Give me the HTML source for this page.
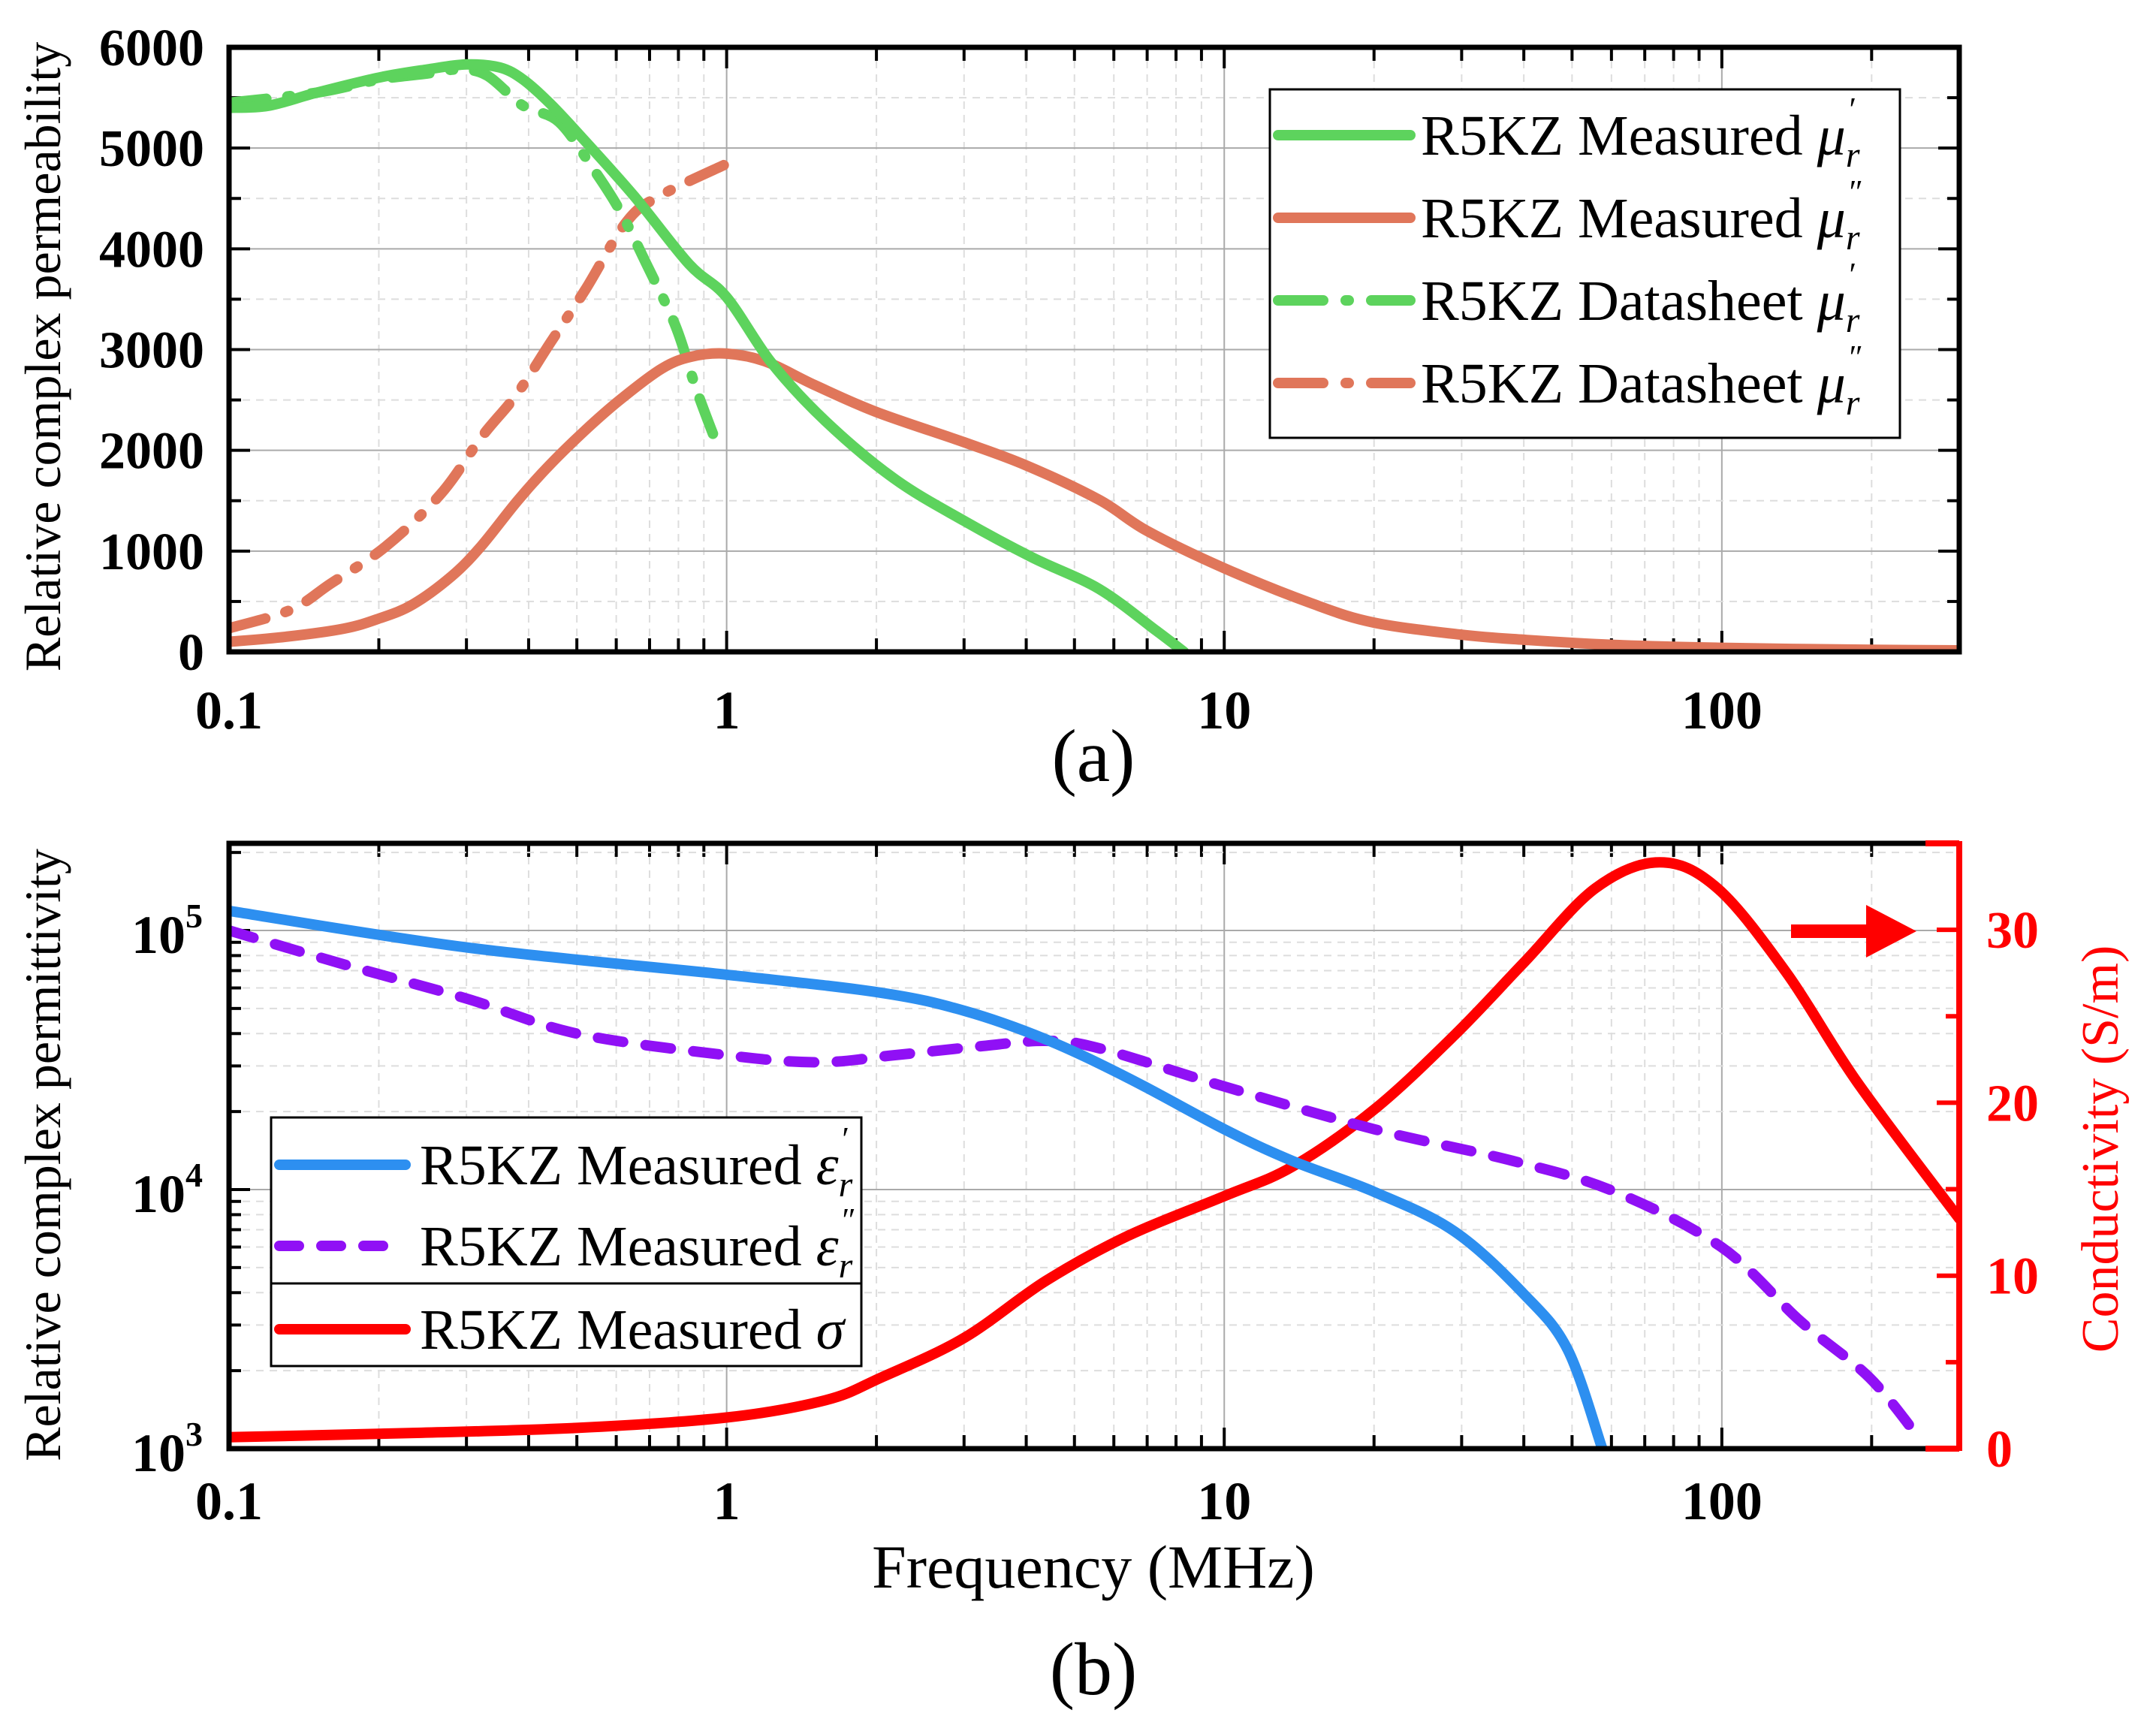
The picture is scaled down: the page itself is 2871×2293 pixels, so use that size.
<!DOCTYPE html>
<html><head><meta charset="utf-8"><style>
html,body{margin:0;padding:0;background:#fff;}
svg, svg text{font-family:"Liberation Serif","Times New Roman",serif;}
</style></head><body>
<svg id="c" width="2871" height="2288" viewBox="0 0 2871 2288" xmlns="http://www.w3.org/2000/svg" font-family="Liberation Serif, serif"></svg>
<script>
// ---- data: panel (a) ----
const muMeasRealF=[0.1,0.12,0.15,0.2,0.25,0.3,0.35,0.39,0.44,0.5,0.65,0.84,1,1.23,1.58,2.17,3,4.1,5.6,7.3,8.3];
const muMeasRealV=[5400,5420,5550,5700,5780,5830,5800,5680,5450,5160,4530,3850,3520,2870,2290,1720,1300,940,625,210,0];
const muMeasImagF=[0.1,0.13,0.17,0.2,0.234,0.28,0.32,0.38,0.44,0.52,0.61,0.74,0.85,1,1.2,1.5,2,3,4,5.6,7,10,15,20,30,40,60,100,200,300];
const muMeasImagV=[100,150,230,330,470,750,1040,1500,1850,2200,2500,2810,2930,2960,2880,2650,2380,2080,1850,1510,1200,830,480,290,170,120,70,40,20,15];
const muDsRealF=[0.1,0.15,0.2,0.25,0.29,0.33,0.39,0.46,0.54,0.61,0.69,0.79,0.87,0.97];
const muDsRealV=[5450,5550,5680,5740,5780,5720,5420,5260,4790,4380,3850,3230,2600,1980];
const muDsImagF=[0.1,0.133,0.16,0.206,0.266,0.322,0.378,0.443,0.52,0.63,0.737,1];
const muDsImagV=[234,417,677,1042,1563,2135,2552,3073,3594,4271,4530,4844];
// ---- data: panel (b) ----
const epsRealF=[0.1,0.3,1,2.04,3,4.38,6.4,10,13.7,20,29,40,49,57.5];
const epsRealV=[119000,86000,67500,57500,49000,38000,27000,17100,12900,9800,6900,3950,2410,1000];
const epsImagF=[0.1,0.17,0.3,0.5,1,1.53,2.17,3.18,4.38,5.64,10,20,38,61,100,144,198,249];
const epsImagV=[100000,74000,54600,40000,33000,31000,33000,35600,37500,35000,25000,17100,12900,9800,5980,3100,1880,1100];
const sigF=[0.1,0.23,0.5,1,1.58,2.04,3,4.38,6.4,10,13.7,20,29,40,55.7,75,98,135,187,300];
const sigV=[0.66,0.9,1.2,1.8,2.8,4.1,6.4,9.7,12.3,14.6,16.3,19.6,23.9,28.1,32.4,33.9,32.4,27.5,21.2,13.3];
const xTicks=[0.1,1,10,100];
const xTickLabels=["0.1","1","10","100"];
const aYTicks=[0,1000,2000,3000,4000,5000,6000];
const bYTicks=[3,4,5];
const bRTicks=[0,10,20,30];

const NS="http://www.w3.org/2000/svg";
const svg=document.getElementById('c');
function el(tag,attrs,parent){const e=document.createElementNS(NS,tag);for(const k in attrs)e.setAttribute(k,attrs[k]);(parent||svg).appendChild(e);return e;}
const X0=305,X1=2609;
function xs(f){return X0+(Math.log10(f)+1)*(X1-X0)/Math.log10(3000);}
const A_T=63,A_B=868;
function ya(v){return A_B-v*(A_B-A_T)/6000;}
const B_T=1123,B_B=1929;
function yb(v){return B_B-(Math.log10(v)-3)*345;}
function yr(v){return B_B-v*23.03;}

function grid(top,bot,g){
  for(let d=-1;d<=2;d++){for(let m=1;m<=9;m++){const f=m*Math.pow(10,d);if(f>300)break;const x=xs(f);
    if(m==1){el('line',{x1:x,x2:x,y1:top,y2:bot,stroke:'#aaa','stroke-width':2},g);}
    else{el('line',{x1:x,x2:x,y1:top,y2:bot,stroke:'#ddd','stroke-width':2,'stroke-dasharray':'10 8'},g);}
    const L=m==1?28:18;
    el('line',{x1:x,x2:x,y1:bot,y2:bot-L,stroke:'#000','stroke-width':4},g);
    el('line',{x1:x,x2:x,y1:top,y2:top+L,stroke:'#000','stroke-width':4},g);
  }}
}
function path(F,V,xf,yf,color,dash,name,g){
  const P=F.map((f,i)=>[xf(f),yf(V[i])]);
  let d='M'+P[0][0].toFixed(1)+','+P[0][1].toFixed(1);
  for(let i=0;i<P.length-1;i++){
    const p0=P[Math.max(i-1,0)],p1=P[i],p2=P[i+1],p3=P[Math.min(i+2,P.length-1)];
    const c1=[p1[0]+(p2[0]-p0[0])/6,p1[1]+(p2[1]-p0[1])/6];
    const c2=[p2[0]-(p3[0]-p1[0])/6,p2[1]-(p3[1]-p1[1])/6];
    d+='C'+c1[0].toFixed(1)+','+c1[1].toFixed(1)+' '+c2[0].toFixed(1)+','+c2[1].toFixed(1)+' '+p2[0].toFixed(1)+','+p2[1].toFixed(1);
  }
  const p=el('path',{d:d,fill:'none',stroke:color,'stroke-width':14,'stroke-linecap':'round','stroke-linejoin':'round'},g);
  if(dash)p.setAttribute('stroke-dasharray',dash);
  
  
}
const GREEN='#5dd35d',ORANGE='#e0765a',BLUE='#2d8ff0',PURPLE='#9010f5',RED='#ff0000';

// ---------- Panel a ----------
const ga=el('g',{});


const aClip=el('clipPath',{id:'ca'},ga);el('rect',{x:X0,y:A_T,width:X1-X0,height:A_B-A_T},aClip);
grid(A_T,A_B,ga);
for(let v=0;v<=6000;v+=500){const y=ya(v);
  if(v%1000==0){el('line',{x1:X0,x2:X1,y1:y,y2:y,stroke:'#aaa','stroke-width':2},ga);}
  else el('line',{x1:X0,x2:X1,y1:y,y2:y,stroke:'#ddd','stroke-width':2,'stroke-dasharray':'10 8'},ga);
  const L=v%1000==0?28:16;
  el('line',{x1:X0,x2:X0+L,y1:y,y2:y,stroke:'#000','stroke-width':4},ga);
  el('line',{x1:X1,x2:X1-L,y1:y,y2:y,stroke:'#000','stroke-width':4},ga);
}
const ca=el('g',{'clip-path':'url(#ca)'},ga);
path(muDsImagF,muDsImagV,xs,ya,ORANGE,'50 28 4 28','datasheet-mu-imag-line',ca);
path(muDsRealF,muDsRealV,xs,ya,GREEN,'50 28 4 28','datasheet-mu-real-line',ca);
path(muMeasImagF,muMeasImagV,xs,ya,ORANGE,null,'measured-mu-imag-line',ca);
path(muMeasRealF,muMeasRealV,xs,ya,GREEN,null,'measured-mu-real-line',ca);
el('rect',{x:X0,y:A_T,width:X1-X0,height:A_B-A_T,fill:'none',stroke:'#000','stroke-width':7},ga);
aYTicks.forEach(v=>{const t=el('text',{x:272,y:ya(v)+24,'text-anchor':'end','font-size':70,'font-weight':'bold'},ga);t.textContent=v;
  });
xTicks.forEach((f,i)=>{const t=el('text',{x:xs(f),y:970,'text-anchor':'middle','font-size':72,'font-weight':'bold'},ga);t.textContent=xTickLabels[i];
  });
{const t=el('text',{x:0,y:0,transform:'translate(80,475) rotate(-90)','text-anchor':'middle','font-size':68},ga);t.textContent='Relative complex permeability';
 }
{const t=el('text',{x:1456,y:1040,'text-anchor':'middle','font-size':100},ga);t.textContent='(a)';
 }
// legend a
const la=el('g',{},ga);


el('rect',{x:1691,y:119,width:839,height:464,fill:'#fff',stroke:'#000','stroke-width':3},la);
const legA=[[GREEN,null,'Measured','′'],[ORANGE,null,'Measured','″'],[GREEN,'50 28 4 28','Datasheet','′'],[ORANGE,'50 28 4 28','Datasheet','″']];
legA.forEach((e,i)=>{const y=180+i*110;
  const ln=el('line',{x1:1702,x2:1878,y1:y,y2:y,stroke:e[0],'stroke-width':14,'stroke-linecap':'round'},la);
  if(e[1])ln.setAttribute('stroke-dasharray','60 30 4 30');
  
  const t=el('text',{x:1892,y:y+26,'font-size':76},la);
  
  t.innerHTML='R5KZ '+e[2]+' <tspan font-style="italic">μ</tspan><tspan font-style="italic" font-size="48" dy="16">r</tspan><tspan font-size="44" dx="-14" dy="-62">'+e[3]+'</tspan>';
});

// ---------- Panel b ----------
const gb=el('g',{});


const bClip=el('clipPath',{id:'cb'},gb);el('rect',{x:X0,y:B_T,width:X1-X0,height:B_B-B_T},bClip);
grid(B_T,B_B,gb);
for(let d=3;d<=5;d++){for(let m=1;m<=9;m++){const v=m*Math.pow(10,d);const y=yb(v);if(y<B_T)break;
  if(m==1)el('line',{x1:X0,x2:X1,y1:y,y2:y,stroke:'#aaa','stroke-width':2},gb);
  else el('line',{x1:X0,x2:X1,y1:y,y2:y,stroke:'#ddd','stroke-width':2,'stroke-dasharray':'10 8'},gb);
  el('line',{x1:X0,x2:X0+(m==1?28:16),y1:y,y2:y,stroke:'#000','stroke-width':4},gb);
}}
for(let v=0;v<=35;v+=5){const y=yr(v);el('line',{x1:X1,x2:X1-(v%10==0?30:18),y1:y,y2:y,stroke:RED,'stroke-width':6},gb);}
const cb=el('g',{'clip-path':'url(#cb)'},gb);
path(sigF,sigV,xs,yr,RED,null,'measured-sigma-line',cb);
path(epsImagF,epsImagV,xs,yb,PURPLE,'34 30','measured-eps-imag-line',cb);
path(epsRealF,epsRealV,xs,yb,BLUE,null,'measured-eps-real-line',cb);
el('path',{d:`M${X1},${B_T}H${X0}V${B_B}H${X1}`,fill:'none',stroke:'#000','stroke-width':7},gb);
el('line',{x1:X1-45,x2:X1,y1:B_T,y2:B_T,stroke:RED,'stroke-width':8},gb);
el('line',{x1:X1-45,x2:X1,y1:B_B,y2:B_B,stroke:RED,'stroke-width':8},gb);
el('line',{x1:X1,x2:X1,y1:B_T-3,y2:B_B+3,stroke:RED,'stroke-width':8},gb);
bYTicks.forEach(p=>{const t=el('text',{x:270,y:yb(Math.pow(10,p))+30,'text-anchor':'end','font-size':72,'font-weight':'bold'},gb);
  t.innerHTML='10<tspan font-size="46" dy="-34">'+p+'</tspan>';
  });
bRTicks.forEach(v=>{const t=el('text',{x:2645,y:yr(v)+24,'font-size':70,'font-weight':'bold',fill:RED},gb);t.textContent=v;
  });
xTicks.forEach((f,i)=>{const t=el('text',{x:xs(f),y:2023,'text-anchor':'middle','font-size':72,'font-weight':'bold'},gb);t.textContent=xTickLabels[i];
  });
{const t=el('text',{x:0,y:0,transform:'translate(80,1538) rotate(-90)','text-anchor':'middle','font-size':68},gb);t.textContent='Relative complex permittivity';
 }
{const t=el('text',{x:0,y:0,transform:'translate(2820,1530) rotate(-90)','text-anchor':'middle','font-size':70,fill:RED},gb);t.textContent='Conductivity (S/m)';
 }
{const t=el('text',{x:1456,y:2114,'text-anchor':'middle','font-size':82},gb);t.textContent='Frequency (MHz)';
 }
{const t=el('text',{x:1456,y:2256,'text-anchor':'middle','font-size':100},gb);t.textContent='(b)';
 }
{const a=el('path',{d:'M2385,1231H2485V1205L2552,1240L2485,1275V1249H2385Z',fill:RED},gb);
 }
// legend b
const lb=el('g',{},gb);


el('rect',{x:361,y:1488,width:786,height:331,fill:'#fff',stroke:'#000','stroke-width':3},lb);
el('line',{x1:361,x2:1147,y1:1709,y2:1709,stroke:'#000','stroke-width':3},lb);
const legB=[[BLUE,null,'Measured ','ε','′',1551],[PURPLE,'34 30','Measured ','ε','″',1659],[RED,null,'Measured ','σ','',1770]];
legB.forEach(e=>{const y=e[5];
  const ln=el('line',{x1:372,x2:540,y1:y,y2:y,stroke:e[0],'stroke-width':14,'stroke-linecap':'round'},lb);
  if(e[1])ln.setAttribute('stroke-dasharray','26 30');
  
  const t=el('text',{x:559,y:y+26,'font-size':76},lb);
  
  t.innerHTML='R5KZ '+e[2]+'<tspan font-style="italic">'+e[3]+'</tspan>'+(e[4]?'<tspan font-style="italic" font-size="48" dy="16">r</tspan><tspan font-size="44" dx="-14" dy="-62">'+e[4]+'</tspan>':'');
});
</script>
</body></html>
